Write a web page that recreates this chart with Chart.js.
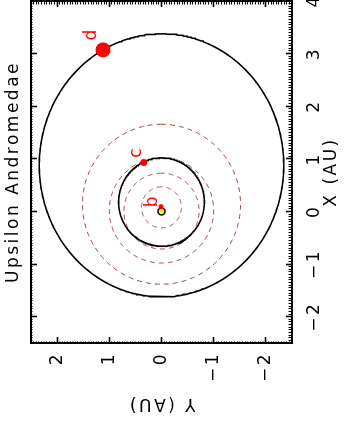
<!DOCTYPE html>
<html>
<head>
<meta charset="utf-8">
<script src="https://cdn.jsdelivr.net/npm/chart.js@4/dist/chart.umd.min.js"></script>
<style>
html, body { margin: 0; padding: 0; background: #fff; overflow: hidden; width: 348px; height: 432px; }
#wrap { position: absolute; left: 0; top: 0; width: 456px; height: 348px;
        transform-origin: 0 0; transform: translate(0, 432px) rotate(-90deg); }
canvas { display: block; }
</style>
</head>
<body>
<div id="wrap"><canvas id="c" width="456" height="348"></canvas></div>
<script>
// ---------------- data ----------------
const chartTitle = 'Upsilon Andromedae';
const xAxisTitle = 'X (AU)';
const yAxisTitle = 'Y (AU)';
const xTickValues = [-2, -1, 0, 1, 2, 3, 4];
const xTickLabels = ['\u22122', '\u22121', '0', '1', '2', '3', '4'];
const yTickValues = [-2, -1, 0, 1, 2];
const yTickLabels = ['\u22122', '\u22121', '0', '1', '2'];
const xRange = [-2.5, 4];
const yRange = [-2.5, 2.5];

// dashed reference orbits (inner solar system): semi-major axis (AU) and eccentricity
const refOrbitNames = ['Mercury', 'Venus', 'Earth', 'Mars'];
const refOrbitA = [0.39, 0.72, 1.00, 1.52];
const refOrbitE = [0.20, 0.01, 0.02, 0.09];

// solid planet orbits
const orbitNames = ['c', 'd'];
const orbitA = [0.84, 2.50];
const orbitE = [0.21, 0.35];

// planets and star
const planetNames = ['b', 'c', 'd'];
const planetX = [0.09, 0.93, 3.07];
const planetY = [0.01, 0.34, 1.12];
const starX = [0];
const starY = [0];

// ---------------- helpers ----------------
const FONT = "'DejaVu Sans', sans-serif";
Chart.defaults.font.family = FONT;
Chart.defaults.color = '#000';

function orbitPoints(a, e) {
  // Kepler ellipse with the star at a focus, apastron towards +X
  const b = a * Math.sqrt(1 - e * e);
  const pts = [];
  for (let i = 0; i <= 360; i++) {
    const t = i * Math.PI / 180;
    pts.push({ x: a * e + a * Math.cos(t), y: b * Math.sin(t) });
  }
  return pts;
}
const isMajor = v => Math.abs(v - Math.round(v)) < 1e-6;
function tickLabel(v, values, labels) {
  if (!isMajor(v)) return '';
  const k = values.indexOf(Math.round(v));
  return k >= 0 ? labels[k] : '';
}
function gridFor(pos) {
  const fromBorder = (pos === 'bottom' || pos === 'right');
  return {
    drawOnChartArea: false,
    drawTicks: true,
    tickLength: -6,
    tickColor: '#000',
    tickWidth: c => (c.tick && isMajor(c.tick.value)) ? 1.6 : 1.1,
    tickBorderDash: c => (c.tick && isMajor(c.tick.value)) ? [] : (fromBorder ? [4.5, 100] : [2.5, 4.5]),
    tickBorderDashOffset: c => (c.tick && isMajor(c.tick.value)) ? 0 : (fromBorder ? 0 : 2.5)
  };
}
const border = { display: true, color: '#000', width: 2 };
const textFont = { family: FONT, size: 17, weight: 'normal' };

// ---------------- datasets ----------------
const datasets = [];
datasets.push({
  label: 'planets',
  data: planetX.map((x, i) => ({ x, y: planetY[i] })),
  pointRadius: [2.5, 3.5, 7.5],
  pointBackgroundColor: '#ff0000',
  pointBorderWidth: 0,
  showLine: false,
  order: 0
});
datasets.push({
  label: 'star',
  data: starX.map((x, i) => ({ x, y: starY[i] })),
  pointRadius: 3.5,
  pointBackgroundColor: '#ffff00',
  pointBorderColor: '#000',
  pointBorderWidth: 1.5,
  showLine: false,
  order: 1
});
orbitNames.forEach((n, i) => datasets.push({
  label: 'orbit ' + n,
  data: orbitPoints(orbitA[i], orbitE[i]),
  showLine: true, pointRadius: 0, borderColor: '#000', borderWidth: 1.6,
  tension: 0, order: 2
}));
refOrbitNames.forEach((n, i) => datasets.push({
  label: n,
  data: orbitPoints(refOrbitA[i], refOrbitE[i]),
  showLine: true, pointRadius: 0, borderColor: '#a03c3c', borderWidth: 1,
  borderDash: [5, 4], tension: 0, order: 3
}));

// ---------------- plugins ----------------
const LS = '2.5px';
const spacing = {
  id: 'spacing',
  beforeUpdate(chart) { chart.ctx.letterSpacing = LS; },
  beforeLayout(chart) { chart.ctx.letterSpacing = LS; },
  beforeDraw(chart) { chart.ctx.letterSpacing = LS; }
};
const labelOffsets = [[4.9, -8.7], [9.4, -7.0], [14.7, -11.5]];
const planetLabels = {
  id: 'planetLabels',
  afterDatasetsDraw(chart) {
    const meta = chart.getDatasetMeta(0);
    const ctx = chart.ctx;
    ctx.save();
    ctx.letterSpacing = '0px';
    ctx.font = '17px ' + FONT;
    ctx.fillStyle = '#ff0000';
    ctx.textAlign = 'center';
    ctx.textBaseline = 'middle';
    meta.data.forEach((pt, i) => {
      ctx.fillText(planetNames[i], pt.x + labelOffsets[i][0], pt.y + labelOffsets[i][1]);
    });
    ctx.restore();
  }
};

// ---------------- chart ----------------
new Chart(document.getElementById('c'), {
  type: 'scatter',
  data: { datasets },
  plugins: [spacing, planetLabels],
  options: {
    responsive: false,
    devicePixelRatio: 1,
    animation: false,
    events: [],
    layout: { padding: { top: 0, left: 0, right: 0, bottom: 0 } },
    plugins: {
      legend: { display: false },
      tooltip: { enabled: false },
      title: {
        display: true, text: chartTitle, fullSize: false, align: 'center',
        color: '#000', padding: { top: 3.8, bottom: 6.8 },
        font: textFont
      }
    },
    scales: {
      x: {
        type: 'linear', position: 'bottom', min: xRange[0], max: xRange[1],
        afterFit: s => { s.height = 56; },
        border, grid: gridFor('bottom'),
        ticks: { stepSize: 0.05, autoSkip: false, maxTicksLimit: 1000, maxRotation: 0, minRotation: 0,
                 padding: 18.3, color: '#000', font: textFont,
                 callback: v => tickLabel(v, xTickValues, xTickLabels) },
        title: { display: true, text: xAxisTitle, color: '#000', font: textFont, padding: { top: 0, bottom: 5.8 } }
      },
      x2: {
        type: 'linear', position: 'top', min: xRange[0], max: xRange[1],
        afterFit: s => { s.height = 0; },
        border, grid: gridFor('top'),
        ticks: { display: false, stepSize: 0.05, autoSkip: false, maxTicksLimit: 1000 }
      },
      y: {
        type: 'linear', position: 'left', min: yRange[0], max: yRange[1],
        afterFit: s => { s.width = 89; },
        border, grid: gridFor('left'),
        ticks: { stepSize: 0.05, autoSkip: false, maxTicksLimit: 1000,
                 padding: 15, color: '#000', font: textFont,
                 callback: v => tickLabel(v, yTickValues, yTickLabels) },
        title: { display: true, text: yAxisTitle, color: '#000', font: textFont, padding: { top: 18.3, bottom: 0 } }
      },
      y2: {
        type: 'linear', position: 'right', min: yRange[0], max: yRange[1],
        afterFit: s => { s.width = 0; },
        border, grid: gridFor('right'),
        ticks: { display: false, stepSize: 0.05, autoSkip: false, maxTicksLimit: 1000 }
      }
    }
  }
});
</script>
</body>
</html>
